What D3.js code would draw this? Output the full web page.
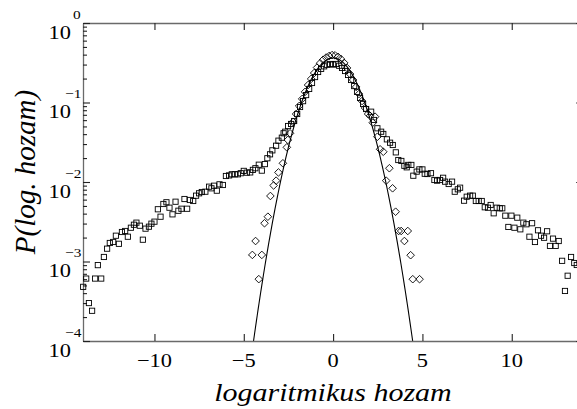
<!DOCTYPE html>
<html>
<head>
<meta charset="utf-8">
<script src="https://cdn.jsdelivr.net/npm/d3@7/dist/d3.min.js"></script>
<style>
  html, body { margin: 0; padding: 0; background: #fff; }
  svg { display: block; }
</style>
</head>
<body>
<svg id="chart" width="577" height="409"></svg>
<script>
// ---- data ----
const squareX = [-13.99,-13.82,-13.67,-13.49,-13.32,-13.17,-12.98,-12.83,-12.65,-12.50,-12.31,-12.16,-11.99,-11.82,-11.64,-11.49,-11.32,-11.15,-11.01,-10.82,-10.65,-10.50,-10.31,-10.17,-10.00,-9.81,-9.66,-9.50,-9.33,-9.16,-8.99,-8.82,-8.66,-8.49,-8.32,-8.17,-8.02,-7.83,-7.67,-7.50,-7.35,-7.15,-6.94,-6.81,-6.66,-6.51,-6.36,-6.17,-6.00,-5.82,-5.67,-5.50,-5.33,-5.17,-5.00,-4.83,-4.64,-4.49,-4.35,-4.16,-3.99,-3.82,-3.68,-3.53,-3.40,-3.19,-3.06,-2.87,-2.77,-2.68,-2.52,-2.35,-2.18,-2.01,-1.85,-1.68,-1.51,-1.34,-1.18,-1.01,-0.84,-0.67,-0.50,-0.34,-0.17,0.00,0.17,0.34,0.50,0.67,0.84,1.01,1.18,1.34,1.51,1.68,1.85,2.13,2.29,2.48,2.69,2.81,3.01,3.19,3.34,3.51,3.65,3.82,3.99,4.12,4.21,4.38,4.49,4.68,4.83,5.00,5.13,5.28,5.48,5.67,5.82,5.99,6.16,6.27,6.47,6.66,6.81,6.98,7.11,7.33,7.48,7.67,7.82,7.99,8.15,8.32,8.49,8.67,8.82,8.99,9.16,9.33,9.47,9.64,9.81,9.98,10.15,10.31,10.48,10.65,10.82,10.99,11.14,11.30,11.47,11.64,11.81,11.98,12.14,12.31,12.46,12.63,12.82,12.98,13.13,13.32,13.50,13.64];
const squareP = [4.8e-4,6.1e-4,3.0e-4,2.4e-4,6.1e-4,9.0e-4,6.1e-4,1.14e-3,1.45e-3,1.71e-3,1.76e-3,2.11e-3,1.67e-3,2.35e-3,2.42e-3,2.05e-3,2.66e-3,2.90e-3,3.08e-3,2.82e-3,1.88e-3,2.59e-3,2.74e-3,2.99e-3,3.17e-3,4.54e-3,3.66e-3,5.29e-3,5.56e-3,4.75e-3,3.92e-3,5.65e-3,4.35e-3,4.61e-3,6.11e-3,4.61e-3,5.94e-3,5.77e-3,6.73e-3,7.21e-3,7.48e-3,7.55e-3,8.73e-3,8.33e-3,8.98e-3,7.78e-3,9.35e-3,9.17e-3,1.19e-2,1.21e-2,1.25e-2,1.25e-2,1.25e-2,1.29e-2,1.38e-2,1.31e-2,1.32e-2,1.42e-2,1.49e-2,1.65e-2,1.39e-2,1.68e-2,1.99e-2,2.23e-2,2.50e-2,2.86e-2,3.31e-2,3.61e-2,4.10e-2,4.29e-2,5.06e-2,5.37e-2,5.85e-2,0.0717,0.0878,0.104,0.124,0.148,0.176,0.209,0.242,0.265,0.285,0.298,0.305,0.300,0.305,0.290,0.272,0.249,0.222,0.192,0.161,0.136,0.114,0.0958,0.0828,0.0766,0.0603,0.0474,0.0429,0.0402,0.0344,0.0312,0.0292,0.0236,0.0189,0.0184,0.0160,0.0153,0.0164,0.0164,0.0120,0.0135,0.0144,0.0144,0.0127,0.0126,0.0129,0.0106,0.0104,0.0106,0.0113,0.0101,0.00944,0.0101,0.00755,0.00809,0.00848,0.00582,0.00653,0.00673,0.00673,0.00577,0.00577,0.00577,0.00481,0.00475,0.00514,0.00404,0.00475,0.00467,0.00467,0.00377,0.00272,0.00377,0.00266,0.00356,0.00254,0.00308,0.00294,0.00205,0.00303,0.00176,0.00247,0.00211,0.00199,0.00240,0.00157,0.00194,0.00157,0.00181,0.00102,0.000426,0.000662,0.00114,0.000957,0.000904];

const diamondX = [-4.52,-4.34,-4.16,-3.99,-3.84,-3.65,-3.51,-3.33,-3.19,-3.06,-2.81,-2.59,-2.53,-2.41,-2.24,-2.07,-1.90,-1.73,-1.57,-1.40,-1.23,-1.06,-0.90,-0.73,-0.56,-0.39,-0.22,-0.06,0.11,0.28,0.45,0.62,0.78,0.95,1.12,1.29,1.45,1.62,1.79,1.96,2.07,2.22,2.35,2.48,2.63,2.81,2.97,3.15,3.33,3.50,3.67,3.81,3.99,4.18,4.34,4.46,4.84];
const diamondP = [1.21e-3,1.81e-3,6.0e-4,1.21e-3,3.03e-3,3.66e-3,6.67e-3,9.04e-3,1.04e-2,1.32e-2,1.72e-2,2.73e-2,3.38e-2,4.10e-2,0.0569,0.0717,0.0904,0.111,0.136,0.166,0.198,0.235,0.275,0.312,0.345,0.368,0.385,0.395,0.392,0.375,0.350,0.315,0.272,0.228,0.192,0.157,0.128,0.1044,0.0853,0.0717,0.0680,0.0557,0.0663,0.0371,0.0258,0.0240,0.0104,0.0149,0.00833,0.00423,0.00242,0.00242,0.00181,0.00242,0.00120,0.000599,0.000599];

// Gaussian fit line (normal density parameters)
const fitMean = 0;
const fitSigma = 1.1;

const xTickValues = [-10, -5, 0, 5, 10];
const xTickLabels = ["\u221210", "\u22125", "0", "5", "10"];
const yTickExponents = [0, -1, -2, -3, -4];
const yTickExpLabels = ["0", "\u22121", "\u22122", "\u22123", "\u22124"];
const xTitle = "logaritmikus hozam";
const yTitle = "P(log. hozam)";

// ---- layout ----
const FONT = "Liberation Serif";
const svg = d3.select("#chart");
const L = 83, R = 583.2, T = 23, B = 341;
const x = d3.scaleLinear().domain([-14, 14]).range([L, R]);
const y = d3.scaleLog().domain([1e-4, 1]).range([B, T]);
const SX = 1.18; // horizontal stretch of the lettering

svg.append("defs").append("clipPath").attr("id", "clip")
  .append("rect").attr("x", L).attr("y", T).attr("width", R - L).attr("height", B - T);

// fit line
const fitXs = d3.range(-5, 5.0001, 0.05);
const fitLine = d3.line()
  .x(d => x(d))
  .y(d => y(Math.exp(-((d - fitMean) ** 2) / (2 * fitSigma * fitSigma)) / (fitSigma * Math.sqrt(2 * Math.PI))));
svg.append("path").datum(fitXs)
  .attr("clip-path", "url(#clip)")
  .attr("d", fitLine)
  .attr("fill", "none").attr("stroke", "#000").attr("stroke-width", 1.1);

// axes
const majorY = yTickExponents.map(e => Math.pow(10, e));
const minorY = [];
for (let e = -4; e < 0; e++) for (let k = 2; k <= 9; k++) minorY.push(k * Math.pow(10, e));

function styleAxis(g) {
  g.selectAll(".domain").attr("stroke", "#6a6a6a").attr("stroke-width", 1.3);
  g.selectAll(".tick line").attr("stroke", "#222").attr("stroke-width", 1.1);
  g.selectAll(".tick text").remove();
}
svg.append("g").attr("transform", `translate(0,${B})`)
  .call(d3.axisBottom(x).tickValues(xTickValues).tickSizeInner(-7).tickSizeOuter(0).tickFormat(""))
  .call(styleAxis);
svg.append("g").attr("transform", `translate(0,${T})`)
  .call(d3.axisTop(x).tickValues(xTickValues).tickSizeInner(-7).tickSizeOuter(0).tickFormat(""))
  .call(styleAxis);
svg.append("g").attr("transform", `translate(${L},0)`)
  .call(d3.axisLeft(y).tickValues(majorY).tickSizeInner(-7).tickSizeOuter(0).tickFormat(""))
  .call(styleAxis);
svg.append("g").attr("transform", `translate(${L},0)`)
  .call(d3.axisLeft(y).tickValues(minorY).tickSizeInner(-4).tickSizeOuter(0).tickFormat(""))
  .call(styleAxis).select(".domain").remove();
svg.append("g").attr("transform", `translate(${R},0)`)
  .call(d3.axisRight(y).tickValues(majorY).tickSizeInner(-7).tickSizeOuter(0).tickFormat(""))
  .call(styleAxis);

// x tick labels
xTickValues.forEach((v, i) => {
  svg.append("text")
    .attr("transform", `translate(${x(v)},367) scale(${SX},1)`)
    .attr("text-anchor", "middle")
    .attr("font-family", FONT)
    .attr("font-size", 19)
    .text(xTickLabels[i]);
});

// y tick labels 10^e
yTickExponents.forEach((e, i) => {
  const py = y(Math.pow(10, e));
  svg.append("text")
    .attr("transform", `translate(71,${py + 15.5}) scale(${SX},1)`)
    .attr("text-anchor", "end")
    .attr("font-family", FONT)
    .attr("font-size", 19)
    .text("10");
  svg.append("text")
    .attr("transform", `translate(${e === 0 ? 73 : 65},${py - 4.5}) scale(${SX},1)`)
    .attr("text-anchor", "start")
    .attr("font-family", FONT)
    .attr("font-size", 13)
    .text(yTickExpLabels[i]);
});

// markers
svg.append("g").selectAll("rect").data(squareX.map((v, i) => [v, squareP[i]]))
  .join("rect")
  .attr("x", d => x(d[0]) - 2.6).attr("y", d => y(d[1]) - 2.6)
  .attr("width", 5.2).attr("height", 5.2)
  .attr("fill", "none").attr("stroke", "#000").attr("stroke-width", 0.9);

const dh = 3.8;
svg.append("g").selectAll("path").data(diamondX.map((v, i) => [v, diamondP[i]]))
  .join("path")
  .attr("d", d => {
    const cx = x(d[0]), cy = y(d[1]);
    return `M${cx},${cy - dh}L${cx + dh},${cy}L${cx},${cy + dh}L${cx - dh},${cy}Z`;
  })
  .attr("fill", "none").attr("stroke", "#000").attr("stroke-width", 0.9);

// titles
svg.append("text")
  .attr("transform", `translate(333,401) scale(1.2,1)`)
  .attr("text-anchor", "middle")
  .attr("font-family", FONT)
  .attr("font-size", 25).attr("font-style", "italic")
  .text(xTitle);
svg.append("text")
  .attr("transform", `translate(35,172) rotate(-90)`)
  .attr("text-anchor", "middle")
  .attr("font-family", FONT)
  .attr("font-size", 29).attr("font-style", "italic")
  .text(yTitle);
</script>
</body>
</html>
